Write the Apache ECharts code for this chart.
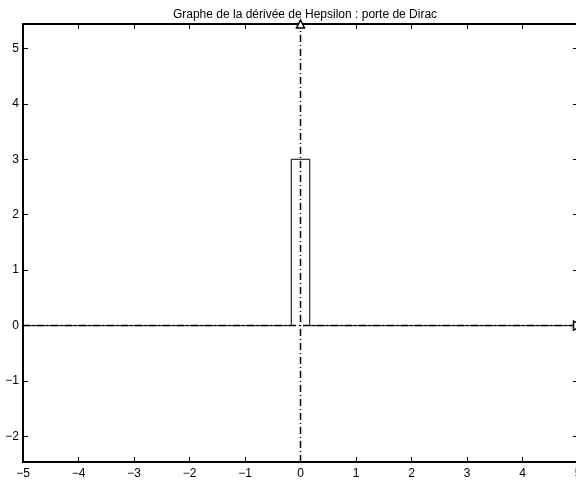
<!DOCTYPE html>
<html>
<head>
<meta charset="utf-8">
<script src="https://cdn.jsdelivr.net/npm/echarts@6/dist/echarts.min.js"></script>
<style>
  html, body { margin: 0; padding: 0; background: #fff; }
  #chart { width: 576px; height: 484px; }
</style>
</head>
<body>
<div id="chart"></div>
<script>
// Axis ranges
const xRange = [-5, 5];
const yRange = [-2.46, 5.44];

// Tick values
const xTicks = [-5, -4, -3, -2, -1, 0, 1, 2, 3, 4, 5];
const yTicks = [-2, -1, 0, 1, 2, 3, 4, 5];

// Rectangular pulse of width 1/3 and height 3 (unit area)
const pulseX = [-5, -1 / 6, -1 / 6, 1 / 6, 1 / 6, 5];
const pulseY = [0, 0, 3, 3, 0, 0];

// Dash-dot reference axes through the origin
const hAxisX = [-5, 5];
const hAxisY = [0, 0];
const vAxisX = [0, 0];
const vAxisY = [-2.46, 5.44];

const fmt = v => String(v).replace('-', '\u2212');
const font = 'Liberation Sans, Arial, Helvetica, sans-serif';

const chart = echarts.init(document.getElementById('chart'), null, { renderer: 'canvas' });

const tickStyle = { show: true, inside: true, length: 5, lineStyle: { color: '#000', width: 1 } };

chart.setOption({
  animation: false,
  backgroundColor: '#fff',
  title: {
    text: 'Graphe de la dérivée de Hepsilon : porte de Dirac',
    left: 300, textAlign: 'center', top: 4,
    textStyle: { fontFamily: font, fontSize: 12, fontWeight: 'normal', color: '#000' }
  },
  grid: { left: 23, top: 24, width: 555, height: 438, outerBoundsMode: 'none', containLabel: false },
  xAxis: [
    {
      type: 'value', position: 'bottom', min: xRange[0], max: xRange[1], interval: 1,
      axisLine: { show: true, onZero: false, lineStyle: { color: '#000', width: 2 } },
      axisTick: tickStyle,
      splitLine: { show: false },
      axisLabel: { show: true, margin: 6, formatter: fmt, fontFamily: font, fontSize: 12, color: '#000',
        showMinLabel: true, showMaxLabel: true }
    },
    {
      type: 'value', position: 'top', min: xRange[0], max: xRange[1], interval: 1,
      axisLine: { show: true, onZero: false, lineStyle: { color: '#000', width: 2 } },
      axisTick: tickStyle,
      splitLine: { show: false },
      axisLabel: { show: false }
    }
  ],
  yAxis: [
    {
      type: 'value', position: 'left', min: yRange[0], max: yRange[1],
      axisLine: { show: true, onZero: false, lineStyle: { color: '#000', width: 2 } },
      axisTick: Object.assign({}, tickStyle, { customValues: yTicks }),
      splitLine: { show: false },
      axisLabel: { show: true, margin: 4, customValues: yTicks, formatter: fmt,
        fontFamily: font, fontSize: 12, color: '#000' }
    },
    {
      type: 'value', position: 'right', min: yRange[0], max: yRange[1],
      axisLine: { show: true, onZero: false, lineStyle: { color: '#000', width: 2 } },
      axisTick: Object.assign({}, tickStyle, { customValues: yTicks }),
      splitLine: { show: false },
      axisLabel: { show: false }
    }
  ],
  series: [
    {
      type: 'line', name: 'porte',
      data: pulseX.map((x, i) => [x, pulseY[i]]),
      showSymbol: false, symbol: 'none',
      lineStyle: { color: '#000', width: 1 },
      z: 3
    },
    {
      type: 'line', name: 'axe horizontal',
      data: hAxisX.map((x, i) => ({
        value: [x, hAxisY[i]],
        symbol: i === hAxisX.length - 1 ? 'triangle' : 'none',
        symbolSize: 9, symbolRotate: -90
      })),
      showSymbol: true,
      itemStyle: { color: '#fff', borderColor: '#000', borderWidth: 1.5 },
      lineStyle: { color: '#000', width: 1.5, type: [7, 3, 1, 3] },
      z: 4
    },
    {
      type: 'line', name: 'axe vertical',
      data: vAxisX.map((x, i) => ({
        value: [x, vAxisY[i]],
        symbol: i === vAxisX.length - 1 ? 'triangle' : 'none',
        symbolSize: 8
      })),
      showSymbol: true,
      itemStyle: { color: '#fff', borderColor: '#000', borderWidth: 1.5 },
      lineStyle: { color: '#000', width: 1.5, type: [7, 3, 1, 3] },
      z: 4
    }
  ]
});
</script>
</body>
</html>
